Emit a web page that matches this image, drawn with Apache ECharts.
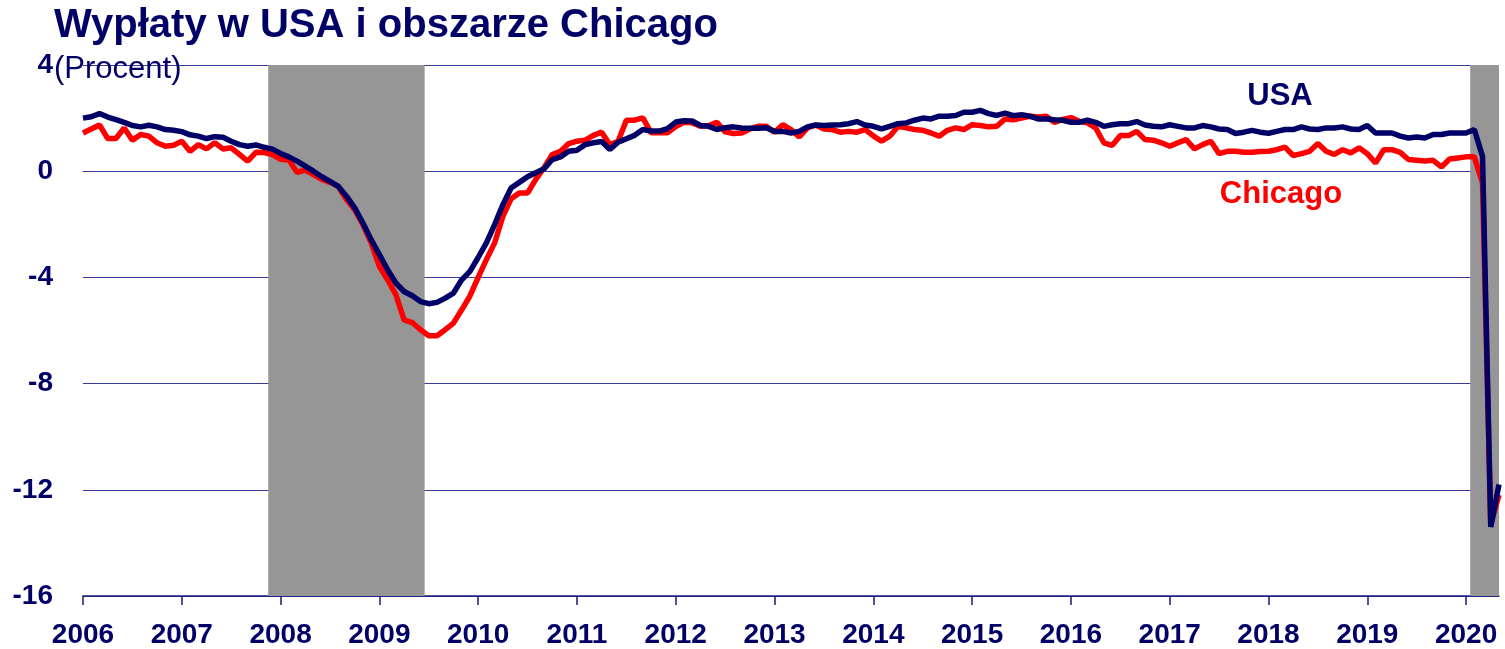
<!DOCTYPE html>
<html>
<head>
<meta charset="utf-8">
<script src="https://cdn.jsdelivr.net/npm/echarts@6/dist/echarts.min.js"></script>
<style>
html,body{margin:0;padding:0;background:#fff;}
#chart{width:1505px;height:649px;}
</style>
</head>
<body>
<div id="chart"></div>
<script>
// Monthly data, Jan 2006 .. May 2020 (index 0 = Jan 2006)
var startYear = 2006;
var yearTicks = [2006,2007,2008,2009,2010,2011,2012,2013,2014,2015,2016,2017,2018,2019,2020];
var yTicks = [-16,-12,-8,-4,0,4];

var usa = [
 2.00,2.05,2.17,2.04,1.94,1.84,1.72,1.67,1.73,1.67,1.57,1.54,
 1.49,1.37,1.32,1.23,1.30,1.28,1.13,1.00,0.94,0.99,0.90,0.83,
 0.67,0.54,0.38,0.19,0.00,-0.21,-0.38,-0.57,-0.94,-1.38,-1.95,-2.58,
 -3.14,-3.71,-4.21,-4.53,-4.69,-4.91,-4.99,-4.94,-4.78,-4.59,-4.09,-3.77,
 -3.25,-2.70,-2.01,-1.26,-0.63,-0.42,-0.21,-0.06,0.09,0.44,0.54,0.75,
 0.79,1.00,1.07,1.12,0.82,1.09,1.22,1.35,1.57,1.51,1.51,1.60,
 1.85,1.90,1.89,1.72,1.69,1.57,1.64,1.67,1.63,1.62,1.62,1.64,
 1.50,1.50,1.44,1.50,1.67,1.74,1.72,1.74,1.75,1.79,1.87,1.74,
 1.69,1.59,1.69,1.79,1.82,1.92,2.00,1.97,2.07,2.07,2.10,2.22,
 2.22,2.29,2.17,2.10,2.19,2.09,2.13,2.07,1.97,1.97,1.94,1.92,
 1.84,1.84,1.92,1.84,1.69,1.75,1.79,1.79,1.87,1.74,1.69,1.67,
 1.75,1.69,1.63,1.63,1.72,1.67,1.59,1.57,1.42,1.47,1.54,1.47,
 1.43,1.50,1.57,1.57,1.67,1.59,1.57,1.63,1.63,1.67,1.59,1.57,
 1.72,1.44,1.44,1.44,1.32,1.25,1.29,1.25,1.38,1.38,1.44,1.44,
 1.44,1.57,0.56,-13.4,-11.8
];

var chicago = [
 1.44,1.59,1.74,1.23,1.23,1.63,1.17,1.38,1.32,1.07,0.94,0.98,
 1.13,0.75,1.00,0.84,1.07,0.84,0.88,0.63,0.38,0.71,0.70,0.63,
 0.45,0.42,-0.04,0.04,-0.13,-0.31,-0.42,-0.57,-1.07,-1.45,-2.01,-2.70,
 -3.58,-4.09,-4.65,-5.60,-5.70,-5.97,-6.20,-6.20,-5.97,-5.72,-5.22,-4.70,
 -4.00,-3.33,-2.70,-1.70,-1.04,-0.82,-0.82,-0.31,0.13,0.63,0.75,1.04,
 1.13,1.17,1.35,1.47,1.00,1.13,1.92,1.92,2.01,1.45,1.45,1.45,
 1.68,1.84,1.82,1.69,1.72,1.84,1.48,1.42,1.44,1.59,1.69,1.69,
 1.47,1.75,1.57,1.29,1.63,1.74,1.59,1.57,1.47,1.50,1.47,1.57,
 1.33,1.13,1.32,1.69,1.63,1.57,1.54,1.44,1.32,1.54,1.63,1.57,
 1.75,1.72,1.67,1.69,1.97,1.94,2.00,2.07,2.04,2.07,1.84,1.95,
 2.02,1.88,1.82,1.63,1.07,0.97,1.34,1.34,1.50,1.19,1.17,1.07,
 0.94,1.07,1.19,0.84,1.00,1.13,0.66,0.75,0.75,0.71,0.71,0.74,
 0.75,0.81,0.91,0.59,0.66,0.75,1.04,0.75,0.63,0.81,0.69,0.88,
 0.66,0.31,0.81,0.81,0.71,0.44,0.41,0.38,0.41,0.16,0.46,0.50,
 0.54,0.54,-0.45,-13.3,-12.2
];

// recessions, in month index units (from Jan 2006)
var recessions = [[22.5, 41.5], [168.5, 172]];

var navy = '#000066';
var lastIdx = usa.length - 1;
var tickVals = yearTicks.map(function (y) { return (y - startYear) * 12; });

function pairs(arr) { return arr.map(function (v, i) { return [i, v]; }); }

var chart = echarts.init(document.getElementById('chart'));
chart.setOption({
  animation: false,
  backgroundColor: '#ffffff',
  grid: { left: 83, right: 6, top: 65, bottom: 52, containLabel: false },
  xAxis: {
    type: 'value',
    min: 0,
    max: lastIdx,
    axisLine: { show: true, onZero: false, lineStyle: { color: '#1a1a80', width: 1.5 } },
    axisTick: { show: true, length: 9, lineStyle: { color: '#1a1a80', width: 1.5 }, customValues: tickVals },
    axisLabel: {
      customValues: tickVals,
      formatter: function (v) { return String(startYear + Math.round(v / 12)); },
      color: navy, fontFamily: 'Liberation Sans, Arial, sans-serif', fontWeight: 'bold', fontSize: 28, margin: 25
    },
    splitLine: { show: false }
  },
  yAxis: {
    type: 'value',
    min: yTicks[0],
    max: yTicks[yTicks.length - 1],
    interval: 4,
    axisLine: { show: false },
    axisTick: { show: false },
    axisLabel: { color: navy, fontFamily: 'Liberation Sans, Arial, sans-serif', fontWeight: 'bold', fontSize: 28, margin: 30 },
    splitLine: { show: true, lineStyle: { color: '#3a3a98', width: 1 } }
  },
  series: [
    {
      type: 'line', name: 'rec', data: [], z: 1, silent: true,
      markArea: {
        silent: true,
        itemStyle: { color: '#969696', opacity: 1 },
        data: recessions.map(function (r) { return [{ xAxis: r[0] }, { xAxis: r[1] }]; })
      }
    },
    {
      type: 'line', name: 'Chicago', data: pairs(chicago), z: 3,
      showSymbol: false, symbol: 'none',
      lineStyle: { color: '#ff0000', width: 5.5 }
    },
    {
      type: 'line', name: 'USA', data: pairs(usa), z: 4,
      showSymbol: false, symbol: 'none',
      lineStyle: { color: navy, width: 5.5 }
    }
  ],
  graphic: [
    { type: 'text', left: 54, top: 6, z: 10,
      style: { text: 'Wypłaty w USA i obszarze Chicago', fill: navy, font: 'bold 40px "Liberation Sans", Arial, sans-serif' } },
    { type: 'text', x: 54, y: 69, z: 10,
      style: { text: '(Procent)', fill: navy, font: '31px "Liberation Sans", Arial, sans-serif', verticalAlign: 'middle' } },
    { type: 'text', x: 1280, y: 96, z: 10,
      style: { text: 'USA', fill: navy, font: 'bold 31px "Liberation Sans", Arial, sans-serif', align: 'center', verticalAlign: 'middle' } },
    { type: 'text', x: 1281, y: 194, z: 10,
      style: { text: 'Chicago', fill: '#ff0000', font: 'bold 31px "Liberation Sans", Arial, sans-serif', align: 'center', verticalAlign: 'middle' } }
  ]
});
</script>
</body>
</html>
